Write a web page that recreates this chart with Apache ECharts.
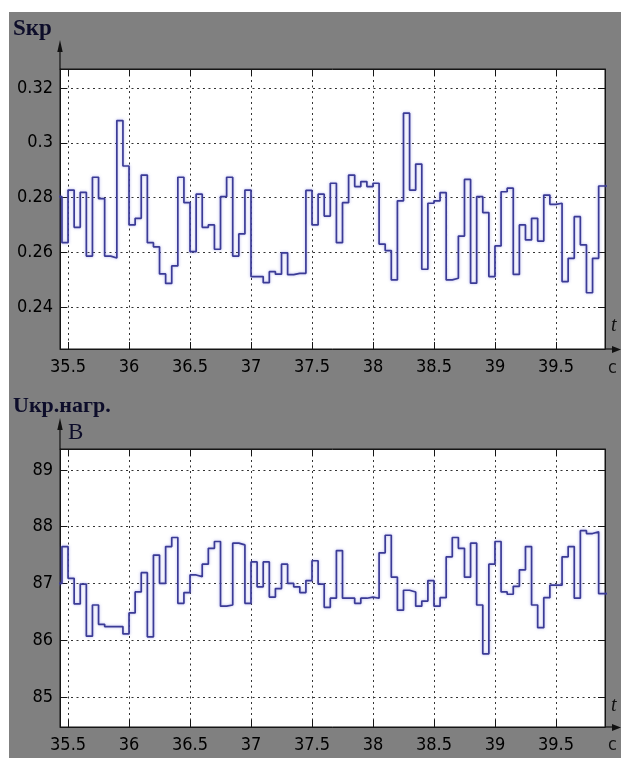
<!DOCTYPE html>
<html><head><meta charset="utf-8">
<script src="https://cdn.jsdelivr.net/npm/echarts@6/dist/echarts.min.js"></script>
<style>
html,body{margin:0;padding:0;background:#fff;}
#bg{position:absolute;left:9px;top:12px;width:612px;height:746px;background:#808080;}
#chart{position:absolute;left:0;top:0;width:621px;height:758px;}
</style></head><body>
<div id="bg"></div><div id="chart"></div>
<script>
// sample start times (each value is held for 0.05 s)
const sampleTimes = [
35.40,35.45,35.50,35.55,35.60,35.65,35.70,35.75,35.80,35.85,
35.90,35.95,36.00,36.05,36.10,36.15,36.20,36.25,36.30,36.35,
36.40,36.45,36.50,36.55,36.60,36.65,36.70,36.75,36.80,36.85,
36.90,36.95,37.00,37.05,37.10,37.15,37.20,37.25,37.30,37.35,
37.40,37.45,37.50,37.55,37.60,37.65,37.70,37.75,37.80,37.85,
37.90,37.95,38.00,38.05,38.10,38.15,38.20,38.25,38.30,38.35,
38.40,38.45,38.50,38.55,38.60,38.65,38.70,38.75,38.80,38.85,
38.90,38.95,39.00,39.05,39.10,39.15,39.20,39.25,39.30,39.35,
39.40,39.45,39.50,39.55,39.60,39.65,39.70,39.75,39.80,39.85];
const holdUntil = 39.95;

// Sкр
const slipValues = [
0.2803,0.2635,0.2827,0.2691,0.2819,0.2586,0.2874,0.2796,0.2586,0.2579,
0.3081,0.2915,0.2700,0.2724,0.2882,0.2635,0.2620,0.2521,0.2486,0.2550,
0.2874,0.2781,0.2602,0.2812,0.2691,0.2700,0.2611,0.2803,0.2874,0.2586,
0.2667,0.2827,0.2511,0.2511,0.2489,0.2529,0.2520,0.2598,0.2518,0.2523,
0.2523,0.2826,0.2700,0.2812,0.2732,0.2852,0.2635,0.2781,0.2882,0.2840,
0.2858,0.2840,0.2852,0.2630,0.2606,0.2499,0.2788,0.3108,0.2827,0.2922,
0.2538,0.2779,0.2788,0.2818,0.2499,0.2505,0.2659,0.2866,0.2487,0.2803,
0.2745,0.2511,0.2623,0.2821,0.2834,0.2519,0.2700,0.2645,0.2724,0.2641,
0.2809,0.2775,0.2779,0.2493,0.2578,0.2730,0.2627,0.2452,0.2578,0.2842];

// Uкр.нагр., В
const voltageValues = [
87.00,87.65,87.09,86.64,86.99,86.07,86.62,86.28,86.24,86.24,
86.24,86.11,86.48,86.85,87.19,86.06,87.50,87.00,87.65,87.81,
86.65,86.84,87.15,87.12,87.34,87.62,87.74,86.60,86.62,87.71,
87.68,86.65,87.38,86.94,87.38,86.76,86.91,87.34,87.00,86.94,
86.84,87.05,87.40,86.99,86.58,86.74,87.58,86.74,86.74,86.65,
86.74,86.76,86.74,87.54,87.85,87.11,86.53,86.88,86.85,86.60,
86.69,87.05,86.60,86.75,87.47,87.81,87.62,87.11,87.71,86.62,
85.76,87.34,87.74,86.85,86.81,86.95,87.24,87.65,86.62,86.22,
86.75,86.97,86.97,87.47,87.65,86.74,87.93,87.88,87.91,86.82];

const xTickLabels = ['35.5','36','36.5','37','37.5','38','38.5','39','39.5'];
const slipTickLabels = ['0.24','0.26','0.28','0.3','0.32'];
const voltTickLabels = ['85','86','87','88','89'];

const xRange = [35.434, 39.902];
const slipRange = [0.22466, 0.32694];
const voltRange = [84.47, 89.37];

function stepData(vals){
  const d = sampleTimes.map((t,i)=>[t, vals[i]]);
  d.push([holdUntil, vals[vals.length-1]]);
  return d;
}
function fmt(list){
  return function(v){
    const s = String(+v.toFixed(4));
    return list.indexOf(s) >= 0 ? s : '';
  };
}

const labelFont = "'Liberation Sans Narrow','DejaVu Sans Condensed','Arial Narrow',sans-serif";
const serif = "'Liberation Serif','DejaVu Serif',serif";
const axisColor = '#151515';
const split = {show:true, lineStyle:{color:'#333', width:1, type:[2,3.5]}};

function xAx(gi, primary){
  return {
    type:'value', gridIndex:gi, min:xRange[0], max:xRange[1],
    splitNumber:9, minInterval:0.5, maxInterval:0.5,
    position: primary ? 'bottom' : 'top',
    axisLine:{show:true, onZero:false, lineStyle:{color:axisColor, width:1}},
    axisTick:{show:true, inside:true, length:7, lineStyle:{color:axisColor, width:1}},
    axisLabel: primary ? {show:true, margin:9, fontSize:18, fontFamily:labelFont, color:'#000',
      showMinLabel:false, showMaxLabel:false, formatter:fmt(xTickLabels)} : {show:false},
    splitLine: primary ? split : {show:false}
  };
}
function yAx(gi, primary, range, step, labels){
  return {
    type:'value', gridIndex:gi, min:range[0], max:range[1],
    minInterval:step, maxInterval:step, splitNumber:5,
    position: primary ? 'left' : 'right',
    axisLine:{show:true, onZero:false, lineStyle:{color:axisColor, width:1}},
    axisTick:{show:true, inside:true, length:7, lineStyle:{color:axisColor, width:1}},
    axisLabel: primary ? {show:true, margin:7, fontSize:18, fontFamily:labelFont, color:'#000',
      showMinLabel:false, showMaxLabel:false, formatter:fmt(labels)} : {show:false},
    splitLine: primary ? split : {show:false}
  };
}

const lineStyle = {color:'#3b3b96', width:1.7, shadowColor:'rgba(110,110,220,0.55)', shadowBlur:3};

const chart = echarts.init(document.getElementById('chart'), null, {renderer:'canvas'});
chart.setOption({
  animation:false,
  backgroundColor:'transparent',
  grid:[
    {left:60, top:69, width:545, height:280, show:true, backgroundColor:'#fff', borderColor:axisColor, borderWidth:1},
    {left:60, top:449, width:545, height:278, show:true, backgroundColor:'#fff', borderColor:axisColor, borderWidth:1}
  ],
  xAxis:[xAx(0,true), xAx(0,false), xAx(1,true), xAx(1,false)],
  yAxis:[yAx(0,true,slipRange,0.02,slipTickLabels), yAx(0,false,slipRange,0.02,slipTickLabels),
         yAx(1,true,voltRange,1,voltTickLabels), yAx(1,false,voltRange,1,voltTickLabels)],
  series:[
    {type:'line', name:'Sкр', xAxisIndex:0, yAxisIndex:0, step:'end', showSymbol:false,
     lineStyle:lineStyle, data:stepData(slipValues), clip:true},
    {type:'line', name:'Uкр.нагр.', xAxisIndex:2, yAxisIndex:2, step:'end', showSymbol:false,
     lineStyle:lineStyle, data:stepData(voltageValues), clip:true}
  ],
  graphic:[
    // vertical arrows
    {type:'line', shape:{x1:60,y1:69,x2:60,y2:48}, style:{stroke:'#111', lineWidth:1.2}},
    {type:'polygon', shape:{points:[[57.3,52],[60,40],[62.7,52]]}, style:{fill:'#111'}},
    {type:'line', shape:{x1:60,y1:449,x2:60,y2:426}, style:{stroke:'#111', lineWidth:1.2}},
    {type:'polygon', shape:{points:[[57.3,430],[60,418],[62.7,430]]}, style:{fill:'#111'}},
    // horizontal arrows
    {type:'line', shape:{x1:605,y1:349,x2:616,y2:349}, style:{stroke:'#111', lineWidth:1.2}},
    {type:'polygon', shape:{points:[[612,346],[621,349.5],[612,353]]}, style:{fill:'#111'}},
    {type:'line', shape:{x1:605,y1:727,x2:616,y2:727}, style:{stroke:'#111', lineWidth:1.2}},
    {type:'polygon', shape:{points:[[612,724],[621,727.5],[612,731]]}, style:{fill:'#111'}},
    // titles
    {type:'text', left:13, top:18, style:{text:'Sкр', fontSize:23, fontWeight:'bold', fontFamily:serif, fill:'#0d0d2a'}},
    {type:'text', left:13, top:395, style:{text:'Uкр.нагр.', fontSize:22, fontWeight:'bold', fontFamily:serif, fill:'#0d0d2a'}},
    {type:'text', left:68, top:421, style:{text:'В', fontSize:23, fontFamily:serif, fill:'#0d0d2a'}},
    {type:'text', left:611, top:316, style:{text:'t', fontSize:20, fontStyle:'italic', fontFamily:serif, fill:'#111'}},
    {type:'text', left:608, top:359, style:{text:'c', fontSize:18, fontFamily:labelFont, fill:'#111'}},
    {type:'text', left:611, top:696, style:{text:'t', fontSize:20, fontStyle:'italic', fontFamily:serif, fill:'#111'}},
    {type:'text', left:608, top:736, style:{text:'c', fontSize:18, fontFamily:labelFont, fill:'#111'}}
  ]
});
</script>
</body></html>
